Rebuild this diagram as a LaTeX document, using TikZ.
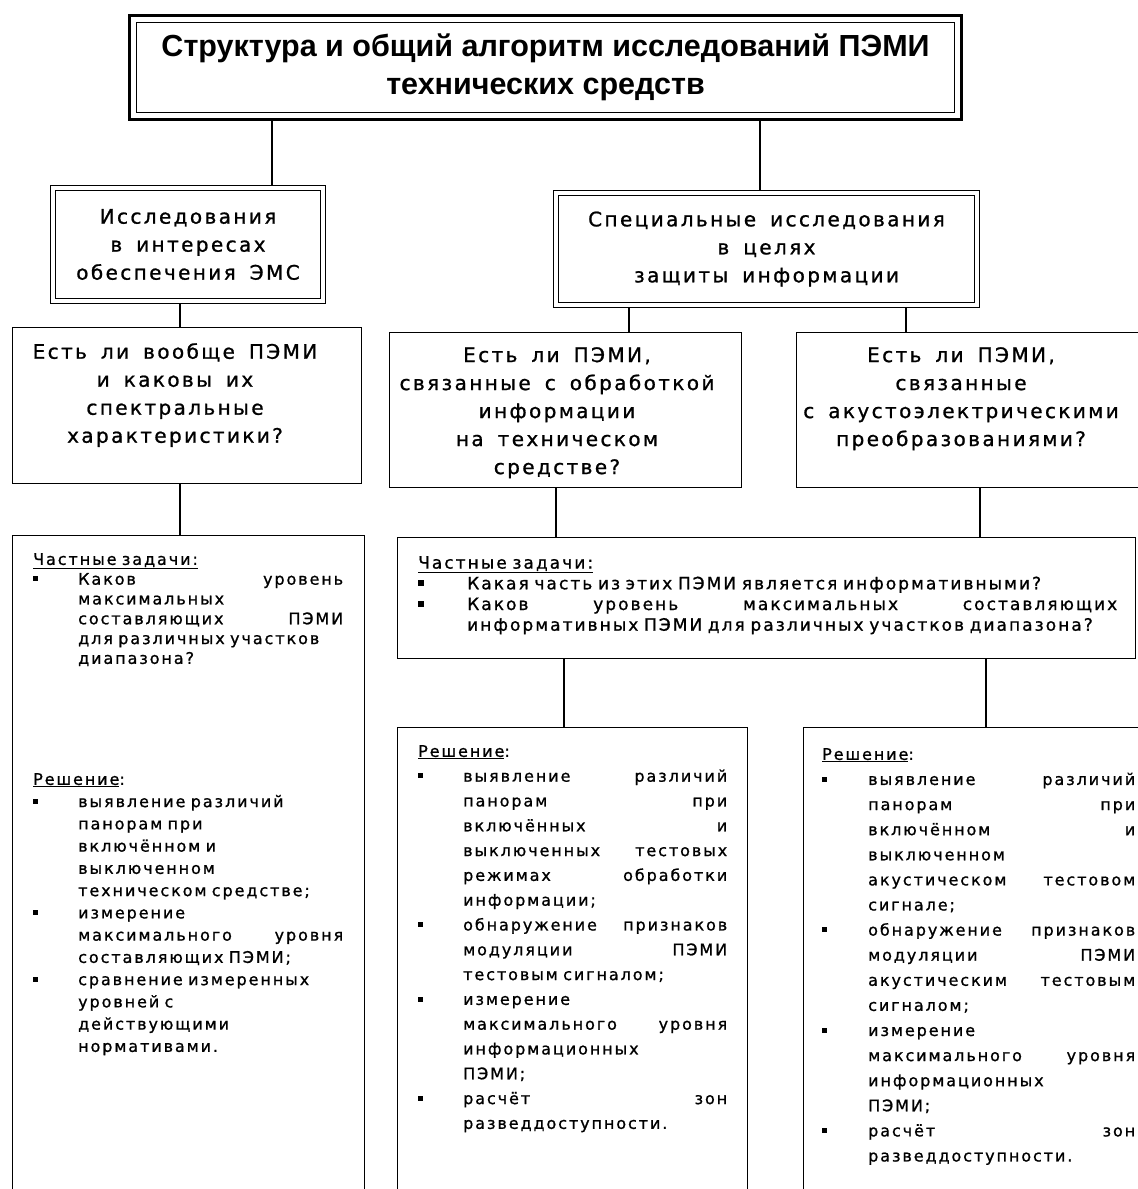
\documentclass[tikz,border=0pt]{standalone}
\usepackage{fontspec}
\setmainfont{DejaVu Sans}
\newfontfamily\capfont{DejaVu Sans}[LetterSpace=12,WordSpace=1.2,FakeBold=1]
\newfontfamily\bodyfont{DejaVu Sans}[LetterSpace=12,WordSpace=1.6,FakeBold=1]
\newfontfamily\headfont{Liberation Sans}
\setlength{\parindent}{0pt}
\newlength{\hangw}
\newcommand{\bul}{\rule[0.2em]{0.32em}{0.32em}}
\newcommand{\gap}{\nobreak\hfill\nobreak}
\newcommand{\litem}[1]{\par\hangindent=\hangw\hangafter=1\noindent\makebox[\hangw][l]{\bul}#1}

\begin{document}
\begin{tikzpicture}[x=1pt,y=-1pt,
    box/.style={draw,line width=1.3pt,inner sep=0pt,outer sep=0.65pt,anchor=north west},
    dbox/.style={draw,line width=1pt,double,double distance=4pt,inner sep=0pt,outer sep=3pt,
        anchor=north west,align=center,font=\capfont\fontsize{20}{28}\selectfont},
    qtext/.style={font=\capfont\fontsize{20}{28}\selectfont,align=center,inner sep=0pt,anchor=north},
    ltext/.style n args={3}{font=\bodyfont\fontsize{#3}{#1}\selectfont,text width=#2,inner sep=0pt,anchor=north west},
    link/.style={line width=1.3pt}]
    \useasboundingbox (0,0) rectangle (1138,1189);
    \clip (0,0) rectangle (1138,1189);

    \node[draw,line width=3pt,inner sep=0pt,outer sep=1.5pt,anchor=north west,minimum width=832pt,minimum height=104pt,
        align=center,font=\headfont\bfseries\fontsize{30.5}{38}\selectfont] (title) at (128,14)
        {Структура и общий алгоритм исследований ПЭМИ\\технических средств};
    \draw[line width=1pt] ([shift={(8.5pt,-8.5pt)}]title.north west) rectangle ([shift={(-8.5pt,8.5pt)}]title.south east);

    \node[dbox,minimum width=270pt,minimum height=113pt] (ems) at (50,185) {Исследования\\в интересах\\обеспечения ЭМС};
    \node[dbox,minimum width=421pt,minimum height=112pt] (spec) at (553,190) {Специальные исследования\\в целях\\защиты информации};

    \node[box,minimum width=349pt,minimum height=156pt] (q1) at (12,327) {};
    \node[qtext] (q1t) at (175,343) {Есть ли вообще ПЭМИ\\и каковы их\\спектральные\\характеристики?};
    \node[box,minimum width=352pt,minimum height=155pt] (q2) at (389,332) {};
    \node[qtext] (q2t) at (557,347) {Есть ли ПЭМИ,\\связанные с обработкой\\информации\\на техническом\\средстве?};
    \node[box,minimum width=350pt,minimum height=155pt] (q3) at (796,332) {};
    \node[qtext] (q3t) at (961,347) {Есть ли ПЭМИ,\\связанные\\с акустоэлектрическими\\преобразованиями?};

    \node[box,minimum width=352pt,minimum height=700pt] (lt) at (12,535) {};
    \node[box,minimum width=738pt,minimum height=121pt] (rt) at (397,537) {};
    \node[box,minimum width=350pt,minimum height=500pt] (sol1) at (397,727) {};
    \node[box,minimum width=350pt,minimum height=500pt] (sol2) at (803,727) {};

    \node[ltext={19.8pt}{310pt}{16}] (ltA) at (33,553) {\setlength{\hangw}{45pt}\underline{Частные~задачи:}
        \litem{Каков\gap уровень\newline максимальных\newline составляющих\gap ПЭМИ\newline для~различных~участков\newline диапазона?}\par};
    \node[ltext={22.25pt}{310pt}{16}] (ltB) at (33,773) {\setlength{\hangw}{45pt}\underline{Решение}:
        \litem{выявление~различий\newline панорам~при\newline включённом~и\newline выключенном\newline техническом~средстве;}
        \litem{измерение\newline максимального\gap уровня\newline составляющих~ПЭМИ;}
        \litem{сравнение~измеренных\newline уровней~с\newline действующими\newline нормативами.}\par};

    \node[ltext={20.7pt}{699pt}{17}] (rtA) at (418,556) {\setlength{\hangw}{49pt}\underline{Частные~задачи:}
        \litem{Какая~часть~из~этих~ПЭМИ~является~информативными?}
        \litem{Каков\gap уровень\gap максимальных\gap составляющих\newline информативных~ПЭМИ~для~различных~участков~диапазона?}\par};

    \node[ltext={24.8pt}{309pt}{16}] (solA) at (418,745) {\setlength{\hangw}{45pt}\underline{Решение}:
        \litem{выявление\gap различий\newline панорам\gap при\newline включённых\gap и\newline выключенных\gap тестовых\newline режимах\gap обработки\newline информации;}
        \litem{обнаружение\gap признаков\newline модуляции\gap ПЭМИ\newline тестовым~сигналом;}
        \litem{измерение\newline максимального\gap уровня\newline информационных\newline ПЭМИ;}
        \litem{расчёт\gap зон\newline разведдоступности.}\par};

    \node[ltext={25.1pt}{313pt}{16}] (solB) at (822,748) {\setlength{\hangw}{46pt}\underline{Решение}:
        \litem{выявление\gap различий\newline панорам\gap при\newline включённом\gap и\newline выключенном\newline акустическом\gap тестовом\newline сигнале;}
        \litem{обнаружение\gap признаков\newline модуляции\gap ПЭМИ\newline акустическим\gap тестовым\newline сигналом;}
        \litem{измерение\newline максимального\gap уровня\newline информационных\newline ПЭМИ;}
        \litem{расчёт\gap зон\newline разведдоступности.}\par};

    \foreach \a/\b/\c in {title/ems/272,title/spec/760,ems/q1/180,spec/q2/629,spec/q3/906,
        q1/lt/180,q2/rt/556,q3/rt/980,rt/sol1/564,rt/sol2/986}{
        \coordinate (px) at (\c,0);
        \draw[link] (\a.south -| px) -- (\b.north -| px);
    }
\end{tikzpicture}
\end{document}
